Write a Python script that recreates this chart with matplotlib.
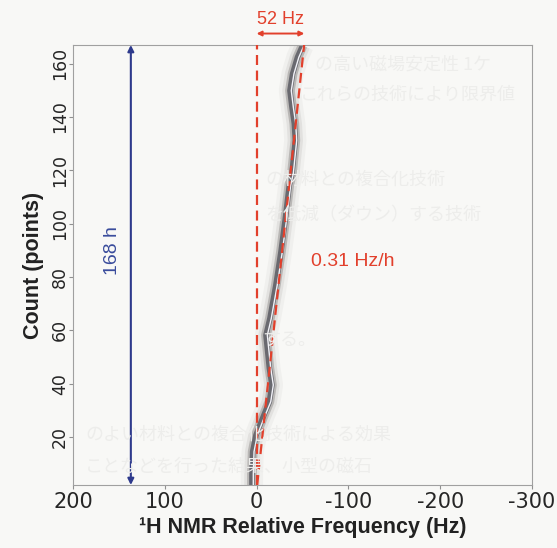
import numpy as np
import matplotlib.pyplot as plt

plt.rcParams['axes.unicode_minus'] = False

# trace: count (points) vs relative frequency (Hz)
count_pts = [2, 6, 14.5, 20.7, 27.1, 33.2, 39.5, 45.8, 58.2, 64.5, 77, 89.4,
             102, 114.4, 118.8, 124.9, 131.2, 137.5, 143.7, 149.9, 156.2, 162.4, 166.8]
freq_hz = [3.6, 3.6, 2.8, -0.8, -8.1, -15.4, -18.2, -15.4, -11.7, -16.0, -22.5, -28.0,
           -32.8, -37.1, -40.0, -41.8, -43.7, -42.6, -40.0, -37.8, -40.7, -46.0, -51.6]

drift_rate = 0.31      # Hz/h
total_drift = 52       # Hz
hours = 168
x_ticks = [200, 100, 0, -100, -200, -300]
y_ticks = [20, 40, 60, 80, 100, 120, 140, 160]

# faint bleed-through text of the scanned page
bg_lines = [
    (315, 65, "の高い磁場安定性 1ケ"),
    (300, 95, "これらの技術により限界値"),
    (265, 180, "の材料との複合化技術"),
    (265, 215, "を低減（ダウン）する技術"),
    (262, 340, "する。"),
    (85, 435, "のよい材料との複合化技術による効果"),
    (85, 467, "ことなどを行った結果、小型の磁石"),
]

W, H = 557, 548
fig = plt.figure(figsize=(W / 100, H / 100), dpi=100, facecolor='#f8f8f6')

for px, py, s in bg_lines:
    fig.text(px / W, 1 - py / H, s, fontsize=13, color='#ededeb',
             family=['Noto Sans CJK JP', 'DejaVu Sans'], va='center', ha='left', zorder=0)

ax = fig.add_axes([73 / W, 1 - 485 / H, (532 - 73) / W, (485 - 45) / H])
ax.patch.set_alpha(0)
ax.set_xlim(200, -300)
ax.set_ylim(2, 167)

c = np.array(count_pts)
f = np.array(freq_hz)

# blurred gray peak band
for lw, col, a in [(16, '#b0aca8', 0.10), (11, '#9a9692', 0.16), (7, '#7d7a78', 0.4),
                   (4, '#55565e', 0.8)]:
    ax.plot(f + 1.5, c, color=col, lw=lw, alpha=a, solid_capstyle='butt', zorder=2)
ax.plot(f, c, color='#f2f2f8', lw=1.0, zorder=3)

# guide lines
ax.axvline(0, color='#e2402c', lw=1.6, ls=(0, (4.5, 2.5)), zorder=4)
yy = np.array([2, 167])
ax.plot(-drift_rate * yy, yy, color='#e2402c', lw=1.6, ls=(0, (4.5, 2.5)), zorder=4)

# 168 h arrow
ax.annotate('', xy=(137, 167), xytext=(137, 2),
            arrowprops=dict(arrowstyle='<|-|>', color='#2e3a8c', lw=1.5,
                            mutation_scale=9, shrinkA=0, shrinkB=0), zorder=5)
ax.text(157, 90, f'{hours} h', rotation=90, ha='center', va='center',
        color='#3a4c9c', fontsize=14, family='Liberation Sans')

# 52 Hz arrow above the axes
ax.annotate('', xy=(-total_drift, 171.3), xytext=(0, 171.3),
            arrowprops=dict(arrowstyle='<|-|>', color='#e2402c', lw=1.4,
                            mutation_scale=7, shrinkA=0, shrinkB=0),
            annotation_clip=False)
ax.text(-total_drift / 2, 176.5, f'{total_drift} Hz', ha='center', va='center',
        color='#e2402c', fontsize=13, family='Liberation Sans', clip_on=False)

ax.text(-59, 86, f'{drift_rate} Hz/h', ha='left', va='center',
        color='#e2402c', fontsize=14, family='Liberation Sans')

for s in ax.spines.values():
    s.set_color('#a0a0a0')
    s.set_linewidth(0.8)

ax.set_xticks(x_ticks)
ax.set_yticks(y_ticks)
ax.tick_params(axis='x', direction='out', length=3, width=0.8, color='#909090',
               labelsize=15, pad=2, labelcolor='#262626')
ax.tick_params(axis='y', direction='out', length=3, width=0.8, color='#909090',
               labelsize=12.5, pad=0, labelcolor='#262626')
for lab in ax.get_yticklabels():
    lab.set_rotation(90)
    lab.set_va('center')

ax.set_xlabel('¹H NMR Relative Frequency (Hz)', fontsize=15.5, fontweight='bold',
              family='Liberation Sans', color='#222222', labelpad=4)
ax.set_ylabel('Count (points)', fontsize=15.5, fontweight='bold',
              family='Liberation Sans', color='#222222', labelpad=5)

fig.savefig('out.png', dpi=100, facecolor=fig.get_facecolor())
